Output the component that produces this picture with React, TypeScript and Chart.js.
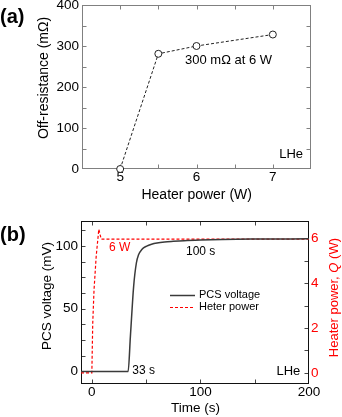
import React, { useEffect, useRef } from "react";
import { Chart, registerables } from "chart.js";
Chart.register(...registerables);

const FONT = '"Liberation Sans", Arial, Helvetica, sans-serif';

// ---------- Panel (a) data ----------
const heaterPowerW = [5, 5.5, 6, 7];
const offResistanceMOhm = [0, 281, 300, 328];
const aXTickLabels = [5, 6, 7];
const aYTickLabels = [0, 100, 200, 300, 400];
const aXTickMarks = [5, 5.5, 6, 6.5, 7];
const aYTickMarks = [50, 100, 150, 200, 250, 300, 350];

// ---------- Panel (b) data ----------
const pcsTime = [-10, 33.4, 35.5, 38.5, 41, 43, 46, 50.5, 55, 60, 67, 75, 85, 100, 120, 150, 200];
const pcsVoltage = [0, 0, 28, 68, 86.5, 93, 97.3, 100, 101.5, 102.5, 103.3, 103.8, 104.3, 104.8, 105.3, 105.6, 105.8];
const heaterTime = [-10, 0, 0.8, 2, 4, 6.4, 8.6, 200];
const heaterPowerQ = [0, 0, 2.2, 3.7, 5.2, 6.4, 5.96, 5.96];
const bXTickLabels = [0, 100, 200];
const bYTickLabels = [0, 50, 100];
const bY2TickLabels = [0, 2, 4, 6];
const bXTickMarks = [0, 50, 100, 150];
const bYTickMarks = [0, 12.5, 25, 37.5, 50, 62.5, 75, 87.5, 100, 112.5];
const bY2TickMarks = [0, 1, 2, 3, 4, 5, 6];

const fixSize = (size: number, horizontal: boolean) => (scale: any) => {
  if (horizontal) scale.height = size;
  else scale.width = size;
  scale.paddingLeft = 0;
  scale.paddingRight = 0;
  scale.paddingTop = 0;
  scale.paddingBottom = 0;
};
const setTicks = (values: number[]) => (scale: any) => {
  scale.ticks = values.map((v) => ({ value: v }));
};

type Txt = {
  text: string;
  x: number;
  y: number;
  size: number;
  align?: CanvasTextAlign;
  color?: string;
  bold?: boolean;
  rotate?: boolean;
};

type DecorCfg = {
  frameColor: string;
  tickColor: string;
  xMarks: number[];
  yMarks: number[];
  y2Marks?: number[];
  texts: Txt[];
  richTitle?: { parts: { t: string; italic?: boolean }[]; x: number; y: number; size: number; color: string };
  legend?: { x: number; y: number; len: number; gap: number; size: number };
};

function makeDecor(cfg: DecorCfg) {
  const L = 4;
  return {
    id: "decor",
    beforeDatasetsDraw(chart: any) {
      const ctx: CanvasRenderingContext2D = chart.ctx;
      const { left, right, top, bottom } = chart.chartArea;
      const l = Math.round(left) + 0.5;
      const r = Math.round(right) - 0.5;
      const t = Math.round(top) + 0.5;
      const b = Math.round(bottom) - 0.5;
      ctx.save();
      ctx.lineWidth = 1;
      ctx.strokeStyle = cfg.tickColor;
      ctx.beginPath();
      const xs = chart.scales.x;
      cfg.xMarks.forEach((v) => {
        const p = Math.round(xs.getPixelForValue(v)) + 0.5;
        ctx.moveTo(p, b);
        ctx.lineTo(p, b - L);
        ctx.moveTo(p, t);
        ctx.lineTo(p, t + L);
      });
      const ys = chart.scales.y;
      cfg.yMarks.forEach((v) => {
        const p = Math.round(ys.getPixelForValue(v)) + 0.5;
        ctx.moveTo(l, p);
        ctx.lineTo(l + L, p);
        if (!cfg.y2Marks) {
          ctx.moveTo(r, p);
          ctx.lineTo(r - L, p);
        }
      });
      if (cfg.y2Marks) {
        const y2 = chart.scales.y2;
        cfg.y2Marks.forEach((v) => {
          const p = Math.round(y2.getPixelForValue(v)) + 0.5;
          ctx.moveTo(r, p);
          ctx.lineTo(r - L, p);
        });
      }
      ctx.stroke();
      ctx.strokeStyle = cfg.frameColor;
      ctx.strokeRect(l, t, r - l, b - t);
      ctx.restore();
    },
    afterDraw(chart: any) {
      const ctx: CanvasRenderingContext2D = chart.ctx;
      ctx.save();
      ctx.textBaseline = "middle";
      cfg.texts.forEach((tx) => {
        ctx.save();
        ctx.font = `${tx.bold ? "bold " : ""}${tx.size}px ${FONT}`;
        ctx.fillStyle = tx.color || "#000";
        ctx.textAlign = tx.align || "left";
        ctx.translate(tx.x, tx.y);
        if (tx.rotate) ctx.rotate(-Math.PI / 2);
        ctx.fillText(tx.text, 0, 0);
        ctx.restore();
      });
      if (cfg.richTitle) {
        const rt = cfg.richTitle;
        ctx.save();
        ctx.translate(rt.x, rt.y);
        ctx.rotate(-Math.PI / 2);
        ctx.fillStyle = rt.color;
        ctx.textAlign = "left";
        const fonts = rt.parts.map((p) => `${p.italic ? "italic " : ""}${rt.size}px ${FONT}`);
        let total = 0;
        const widths = rt.parts.map((p, i) => {
          ctx.font = fonts[i];
          const w = ctx.measureText(p.t).width;
          total += w;
          return w;
        });
        let cx = -total / 2;
        rt.parts.forEach((p, i) => {
          ctx.font = fonts[i];
          ctx.fillText(p.t, cx, 0);
          cx += widths[i];
        });
        ctx.restore();
      }
      if (cfg.legend) {
        const lg = cfg.legend;
        chart.data.datasets.forEach((ds: any, i: number) => {
          const y = lg.y + i * lg.gap;
          ctx.save();
          ctx.strokeStyle = ds.borderColor;
          ctx.lineWidth = ds.borderWidth;
          ctx.setLineDash(ds.borderDash || []);
          ctx.beginPath();
          ctx.moveTo(lg.x, y + 0.5);
          ctx.lineTo(lg.x + lg.len, y + 0.5);
          ctx.stroke();
          ctx.restore();
          ctx.font = `${lg.size}px ${FONT}`;
          ctx.fillStyle = "#000";
          ctx.textAlign = "left";
          ctx.fillText(ds.label, lg.x + lg.len + 4, y);
        });
      }
      ctx.restore();
    },
  };
}

function PanelA() {
  const ref = useRef<HTMLCanvasElement>(null);
  useEffect(() => {
    const tickFont = { family: FONT, size: 13.5 };
    const chart = new Chart(ref.current!, {
      type: "line",
      data: {
        datasets: [
          {
            label: "Off-resistance",
            data: heaterPowerW.map((x, i) => ({ x, y: offResistanceMOhm[i] })),
            borderColor: "#222",
            borderWidth: 1,
            borderDash: [3, 2],
            pointRadius: 3.5,
            pointBackgroundColor: "#fff",
            pointBorderColor: "#222",
            pointBorderWidth: 1,
            tension: 0,
            clip: false as any,
          },
        ],
      },
      options: {
        animation: false,
        responsive: false,
        devicePixelRatio: 1,
        layout: { padding: { top: 5, right: 31, bottom: 0, left: 0 } },
        plugins: { legend: { display: false }, tooltip: { enabled: false } },
        scales: {
          x: {
            type: "linear",
            min: 4.5,
            max: 7.5,
            grid: { display: false, drawTicks: false },
            border: { display: false },
            ticks: { font: tickFont, color: "#000", padding: 0, autoSkip: false, maxRotation: 0, callback: (v: any) => String(v) },
            afterBuildTicks: setTicks(aXTickLabels),
            afterFit: fixSize(41, true),
          },
          y: {
            type: "linear",
            min: 0,
            max: 400,
            grid: { display: false, drawTicks: false },
            border: { display: false },
            ticks: { font: tickFont, color: "#000", padding: 3, autoSkip: false, callback: (v: any) => String(v) },
            afterBuildTicks: setTicks(aYTickLabels),
            afterFit: fixSize(82, false),
          },
        },
      } as any,
      plugins: [
        makeDecor({
          frameColor: "#808080",
          tickColor: "#808080",
          xMarks: aXTickMarks,
          yMarks: aYTickMarks,
          texts: [
            { text: "(a)", x: 0, y: 17, size: 20, bold: true },
            { text: "Off-resistance (mΩ)", x: 44, y: 78, size: 14, align: "center", rotate: true },
            { text: "Heater power (W)", x: 196.7, y: 195, size: 14, align: "center" },
            { text: "300 mΩ at 6 W", x: 185, y: 60.5, size: 13 },
            { text: "LHe", x: 303, y: 154, size: 13, align: "right" },
          ],
        }) as any,
      ],
    });
    return () => chart.destroy();
  }, []);
  return <canvas ref={ref} width={342} height={210} style={{ display: "block", width: 342, height: 210 }} />;
}

function PanelB() {
  const ref = useRef<HTMLCanvasElement>(null);
  useEffect(() => {
    const tickFont = { family: FONT, size: 13.5 };
    const chart = new Chart(ref.current!, {
      type: "line",
      data: {
        datasets: [
          {
            label: "PCS voltage",
            data: pcsTime.map((x, i) => ({ x, y: pcsVoltage[i] })),
            borderColor: "#3a3a3a",
            borderWidth: 1.5,
            pointRadius: 0,
            cubicInterpolationMode: "monotone",
            yAxisID: "y",
          },
          {
            label: "Heter power",
            data: heaterTime.map((x, i) => ({ x, y: heaterPowerQ[i] })),
            borderColor: "#ff0000",
            borderWidth: 1.2,
            borderDash: [3, 2],
            pointRadius: 0,
            tension: 0,
            yAxisID: "y2",
          },
        ],
      },
      options: {
        animation: false,
        responsive: false,
        devicePixelRatio: 1,
        layout: { padding: { top: 11, right: 0, bottom: 0, left: 0 } },
        plugins: { legend: { display: false }, tooltip: { enabled: false } },
        scales: {
          x: {
            type: "linear",
            min: -10,
            max: 200,
            grid: { display: false, drawTicks: false },
            border: { display: false },
            ticks: { font: tickFont, color: "#000", padding: 0, autoSkip: false, maxRotation: 0, callback: (v: any) => String(v) },
            afterBuildTicks: setTicks(bXTickLabels),
            afterFit: fixSize(33, true),
          },
          y: {
            type: "linear",
            position: "left",
            min: -10,
            max: 120,
            grid: { display: false, drawTicks: false },
            border: { display: false },
            ticks: { font: tickFont, color: "#000", padding: 3, autoSkip: false, callback: (v: any) => String(v) },
            afterBuildTicks: setTicks(bYTickLabels),
            afterFit: fixSize(81, false),
          },
          y2: {
            type: "linear",
            position: "right",
            min: -0.5,
            max: 6.77,
            grid: { display: false, drawTicks: false },
            border: { display: false },
            ticks: { font: tickFont, color: "#ff0000", padding: 2, autoSkip: false, callback: (v: any) => String(v) },
            afterBuildTicks: setTicks(bY2TickLabels),
            afterFit: fixSize(33, false),
          },
        },
      } as any,
      plugins: [
        makeDecor({
          frameColor: "#111",
          tickColor: "#444",
          xMarks: bXTickMarks,
          yMarks: bYTickMarks,
          y2Marks: bY2TickMarks,
          texts: [
            { text: "(b)", x: 0, y: 25, size: 20, bold: true },
            { text: "PCS voltage (mV)", x: 47, y: 86, size: 13.5, align: "center", rotate: true },
            { text: "Time (s)", x: 195.5, y: 198, size: 13.5, align: "center" },
            { text: "6 W", x: 109, y: 38, size: 12, color: "#ff0000" },
            { text: "100 s", x: 186, y: 42, size: 12 },
            { text: "33 s", x: 132.3, y: 161, size: 12 },
            { text: "LHe", x: 300.3, y: 161.7, size: 13, align: "right" },
          ],
          richTitle: {
            parts: [{ t: "Heater power, " }, { t: "Q", italic: true }, { t: " (W)" }],
            x: 334.5,
            y: 87.6,
            size: 13,
            color: "#ff0000",
          },
          legend: { x: 170, y: 85, len: 25, gap: 12, size: 11 },
        }) as any,
      ],
    });
    return () => chart.destroy();
  }, []);
  return <canvas ref={ref} width={342} height={207} style={{ display: "block", width: 342, height: 207 }} />;
}

export default function App() {
  return (
    <div style={{ position: "absolute", left: 0, top: 0, width: 342, height: 417, background: "#fff" }}>
      <PanelA />
      <PanelB />
    </div>
  );
}
